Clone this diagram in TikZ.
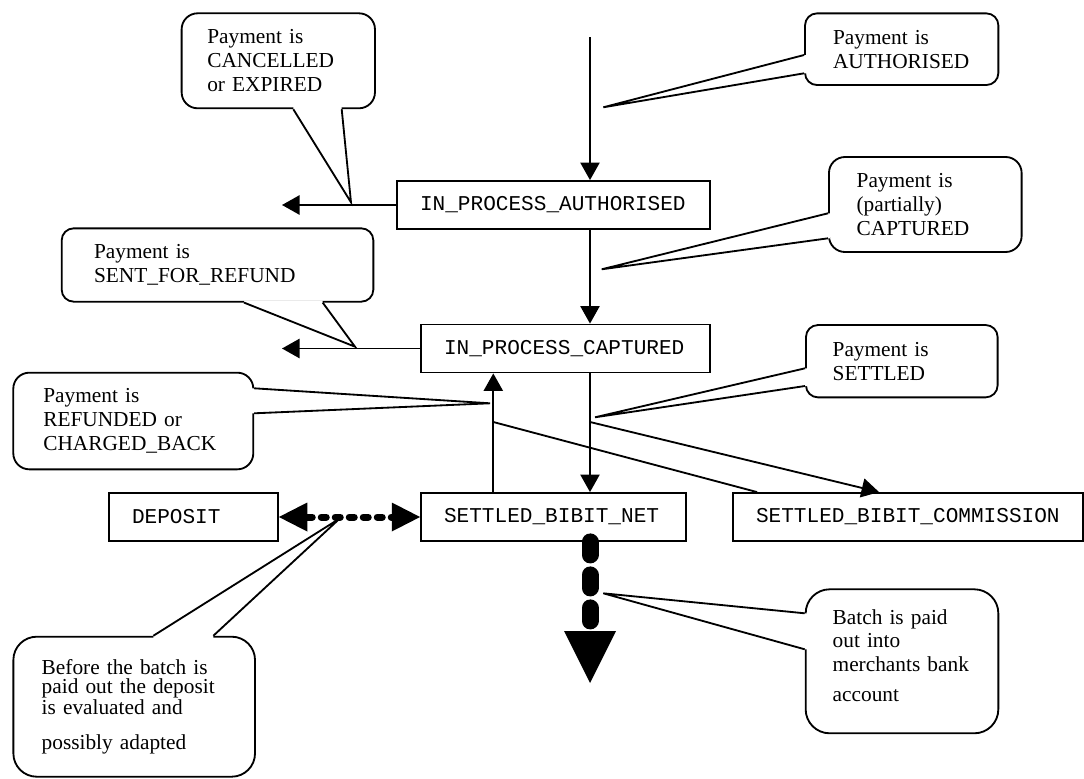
\documentclass[tikz,border=0pt]{standalone}
\usepackage{fontspec}
\setmainfont{Liberation Serif}
\setmonofont{Liberation Mono}
\usetikzlibrary{arrows.meta, calc}

\newcommand{\pointer}[6]{%
  \coordinate (pa) at ($(#1.#2)+(#3)$);
  \coordinate (pb) at ($(#1.#2)+(#5)$);
  \fill[white] (pa) -- (#4) -- (pb) -- ($(pb)+(#6)$) -- ($(pa)+(#6)$) -- cycle;
  \draw (pa) -- (#4) -- (pb);}

\begin{document}
\begin{tikzpicture}[x=0.6pt, y=-0.6pt, line width=1.1pt,
    >={Triangle[length=10.5pt, width=11.5pt]},
    state/.style={draw, align=left, minimum height=28.8pt, inner xsep=13.8pt,
      font=\ttfamily\fontsize{12.65}{14}\selectfont},
    note/.style={draw, align=left, inner ysep=2pt,
      font=\fontsize{12.8}{14.4}\selectfont}]
    \useasboundingbox (0,0) rectangle (1084,779);

    \node[state, minimum width=187.8pt, text width=160.2pt] (auth) at (553.5,205) {IN\_PROCESS\_AUTHORISED};
    \node[state, minimum width=173.4pt, text width=145.8pt] (capt) at (565.5,348.5) {IN\_PROCESS\_CAPTURED};
    \node[state, minimum width=159pt, text width=131.4pt] (net) at (553.5,517) {SETTLED\_BIBIT\_NET};
    \node[state, minimum width=210pt, text width=182.4pt] (comm) at (908,517) {SETTLED\_BIBIT\_COMMISSION};
    \node[state, minimum width=101.4pt, text width=73.8pt] (dep) at (193.5,517) {DEPOSIT};

    \node[note, rounded corners=7.2pt, minimum width=116pt, minimum height=43pt, inner xsep=16.8pt, text width=82.4pt] (cAuth) at (901.7,49.2) {Payment is\\AUTHORISED};
    \coordinate (tAuth) at (603.3,107.3);
    \pointer{cAuth}{west}{0,5.8}{tAuth}{0,24.1}{2,0}

    \node[note, rounded corners=9.6pt, minimum width=115.6pt, minimum height=57pt, inner xsep=16.6pt, text width=82.4pt] (cCapt) at (925.3,204.5) {Payment is\\(partially)\\CAPTURED};
    \coordinate (tCapt) at (601.7,269.3);
    \pointer{cCapt}{west}{0,8.8}{tCapt}{0,33.8}{2,0}

    \node[note, rounded corners=7.2pt, minimum width=115pt, minimum height=43.4pt, inner xsep=16pt, text width=83pt] (cSett) at (901.8,361.2) {Payment is\\SETTLED};
    \coordinate (tSett) at (595,417.3);
    \pointer{cSett}{west}{0,7.1}{tSett}{0,24.8}{2,0}

    \node[note, rounded corners=9.6pt, minimum width=116pt, minimum height=57pt, inner xsep=15.4pt, text width=85.2pt] (cCanc) at (278.3,60.8) {Payment is\\CANCELLED\\or EXPIRED};
    \coordinate (tCanc) at (351,202.3);
    \pointer{cCanc}{south}{15,0}{tCanc}{63.4,0}{0,-2}

    \node[note, rounded corners=7.2pt, minimum width=187pt, minimum height=44pt, inner xsep=19.4pt, text width=148.2pt] (cSent) at (217.5,265) {Payment is\\SENT\_FOR\_REFUND};
    \coordinate (tSent) at (355,346.7);
    \pointer{cSent}{south}{26.5,0}{tSent}{105.2,0}{0,-2}

    \node[note, rounded corners=9.6pt, minimum width=144pt, minimum height=58pt, inner xsep=18pt, text width=108pt] (cRefu) at (133.3,421) {Payment is\\REFUNDED or\\CHARGED\_BACK};
    \coordinate (tRefu) at (490,403.3);
    \pointer{cRefu}{east}{0,-32.7}{tRefu}{0,-7.7}{-2,0}

    \node[note, rounded corners=14.4pt, minimum width=115.6pt, minimum height=86.4pt, inner xsep=16.2pt, text width=83.2pt, text depth=53.4pt, font=\fontsize{12.8}{14.1}\selectfont] (cBatch) at (902,661.3) {Batch is paid\\out into\\merchants bank\\[3.9pt]account};
    \coordinate (tBatch) at (603.3,593.3);
    \pointer{cBatch}{west}{0,-48}{tBatch}{0,-12}{2,0}

    \node[note, rounded corners=14pt, minimum width=145pt, minimum height=84pt, inner xsep=17pt, text width=111pt, font=\fontsize{12.8}{11.4}\selectfont] (cBefore) at (134.2,706.7) {Before the batch is\\paid out the deposit\\is evaluated and\\[9.6pt]possibly adapted};
    \coordinate (tBefore) at (340,518.3);
    \pointer{cBefore}{north}{19.1,0}{tBefore}{79.1,0}{0,2}

    \coordinate (spine) at (590,37);
    \draw[->] (spine) -- (spine |- auth.north);
    \draw[->] (spine |- auth.south) -- (spine |- capt.north);
    \draw[->] (spine |- capt.south) -- (spine |- net.north);
    \coordinate (upline) at (493.3,422);
    \draw[->] (upline |- net.north) -- (upline |- capt.south);
    \coordinate (cancelend) at (282,205);
    \draw[->] (auth.west) -- (cancelend);
    \coordinate (refundend) at (282,348.5);
    \draw[->] (capt.west) -- (refundend);
    \coordinate (split) at (590,422);
    \draw[->] (split) -- ($(comm.north west)+(147,0)$);
    \draw (upline) -- ($(comm.north west)+(25,0)$);
    \draw[{Triangle[length=17pt, width=17.4pt, line width=0pt]}-{Triangle[length=17pt, width=17.4pt, line width=0pt]},
      line width=4.2pt, line cap=round, dash pattern=on 3pt off 5.4pt] (dep.east) -- (net.west);
    \coordinate (payout) at (590,683);
    \draw[-{Triangle[length=31.2pt, width=31.2pt, line width=0pt]},
      line width=10.2pt, line cap=round, dash pattern=on 7.8pt off 12pt] (spine |- net.south) -- (payout);
\end{tikzpicture}
\end{document}
